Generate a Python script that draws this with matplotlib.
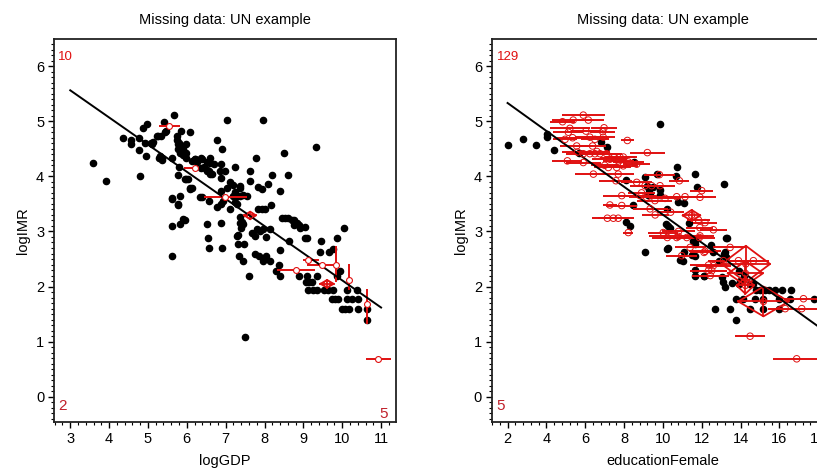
import numpy as np
import matplotlib
matplotlib.use("Agg")
import matplotlib.pyplot as plt
from matplotlib.ticker import MultipleLocator

plt.rcParams['font.family'] = ['Liberation Sans', 'DejaVu Sans']

RED = '#e01010'

# ---- left panel: logGDP vs logIMR ----
gdp_obs = [3.59, 3.91, 4.35, 4.56, 4.56, 4.77, 4.77, 4.80, 4.93, 4.88, 4.97, 4.94, 5.10, 5.12,
           5.23, 5.34, 5.31, 5.37, 5.41, 5.46, 5.67, 5.61, 5.74, 5.74, 5.85, 5.77, 5.77, 5.91,
           5.97, 5.97, 5.97, 5.82, 5.88, 6.13, 6.22, 6.37, 5.80, 5.77, 5.61, 5.78, 5.96, 6.07,
           6.13, 5.90, 5.96, 5.83, 5.61, 5.61, 6.34, 6.45, 6.52, 6.60, 6.60, 6.60, 6.53, 6.54,
           6.57, 6.78, 6.90, 6.87, 6.86, 6.70, 6.64, 7.03, 6.88, 6.97, 6.88, 7.03, 6.87, 6.93,
           6.88, 6.90, 7.12, 7.20, 7.29, 7.37, 7.45, 7.55, 7.24, 7.38, 7.38, 7.29, 7.24, 7.38,
           7.42, 7.40, 7.30, 7.32, 7.48, 7.35, 7.45, 7.62, 7.62, 7.78, 7.95, 7.84, 7.93, 7.83,
           7.93, 8.00, 8.08, 8.19, 7.80, 7.88, 7.97, 7.67, 7.75, 8.05, 8.14, 8.17, 8.40, 8.51,
           8.60, 8.53, 8.60, 8.77, 8.84, 8.88, 9.03, 8.62, 8.40, 9.32, 9.09, 9.45, 9.87, 10.05,
           9.44, 9.65, 9.77, 7.75, 7.85, 7.95, 8.05, 8.15, 7.59, 7.49, 8.36, 8.29, 8.40, 8.88,
           9.09, 9.35, 9.06, 9.15, 9.23, 9.93, 9.86, 9.13, 9.26, 9.35, 9.52, 9.64, 9.77, 10.12,
           10.37, 9.73, 9.82, 9.90, 10.13, 10.24, 10.40, 10.00, 10.08, 10.17, 10.40, 10.64, 10.64,
           7.37, 7.44, 7.31, 6.39, 6.52, 6.21, 6.27, 6.36, 6.49, 6.58, 6.40, 6.57, 6.77, 7.10,
           7.20, 7.25, 5.09, 5.27, 5.28, 5.35, 5.45, 5.63, 5.82, 5.77, 5.99, 6.04, 6.08, 6.08,
           5.80, 5.85, 5.88, 5.90, 8.70, 8.76, 8.92, 9.05, 8.46]
imr_obs_l = [4.25, 3.92, 4.69, 4.66, 4.58, 4.70, 4.48, 4.01, 4.61, 4.87, 4.94, 4.36, 4.58, 4.62,
             4.73, 4.73, 4.37, 4.34, 4.99, 4.82, 5.11, 4.33, 4.74, 4.65, 4.82, 4.58, 4.49, 4.49,
             4.58, 4.42, 4.34, 4.43, 4.43, 4.28, 4.32, 4.34, 4.16, 4.03, 3.61, 3.50, 3.95, 3.77,
             3.78, 3.23, 3.20, 3.14, 3.09, 2.56, 3.63, 4.16, 4.10, 4.34, 4.24, 4.05, 3.14, 2.89,
             2.70, 4.65, 4.49, 4.22, 4.10, 4.22, 4.04, 5.02, 3.97, 4.10, 3.73, 3.79, 3.49, 3.55,
             3.16, 2.70, 3.41, 3.65, 3.65, 3.64, 3.66, 3.65, 4.16, 3.78, 3.82, 3.50, 3.53, 3.27,
             3.18, 3.07, 2.92, 2.77, 2.77, 2.56, 2.47, 4.09, 3.92, 4.34, 5.02, 3.80, 3.77, 3.41,
             3.41, 3.40, 3.86, 4.02, 3.05, 3.01, 3.04, 2.98, 2.92, 2.90, 3.04, 3.48, 3.73, 4.43,
             4.02, 3.24, 3.25, 3.20, 3.15, 3.11, 3.08, 2.83, 2.66, 4.54, 2.89, 2.82, 2.88, 3.07,
             2.62, 2.63, 2.69, 2.60, 2.55, 2.47, 2.55, 2.47, 2.19, 1.08, 2.40, 2.29, 2.19, 2.19,
             2.19, 2.19, 2.08, 2.08, 2.08, 2.29, 2.20, 1.93, 1.93, 1.93, 1.93, 1.93, 1.93, 1.93,
             1.93, 1.78, 1.78, 1.78, 1.78, 1.78, 1.78, 1.60, 1.60, 1.60, 1.60, 1.60, 1.39,
             3.16, 3.13, 2.94, 4.31, 4.26, 4.31, 4.26, 4.15, 4.13, 4.09, 3.63, 3.56, 3.45, 3.90,
             3.85, 3.72, 4.61, 4.73, 4.34, 4.30, 4.81, 3.58, 3.65, 3.48, 3.95, 3.96, 3.79, 4.80,
             4.60, 4.55, 4.45, 4.38, 3.20, 3.12, 3.06, 2.89, 3.24]

# imputed logGDP (missing x): value, interval low/high, observed logIMR
gdp_imp = [5.55, 6.22, 6.97, 8.82, 9.13, 9.49, 10.92]
gdp_lo = [5.29, 5.93, 6.45, 8.33, 8.99, 9.09, 10.60]
gdp_hi = [5.83, 6.32, 7.56, 9.31, 9.41, 9.91, 11.26]
gdp_imp_y = [4.91, 4.15, 3.62, 2.30, 2.48, 2.40, 0.69]

# imputed logIMR (missing y)
imr_imp_x = [9.85, 10.17, 10.64]
imr_imp = [2.40, 2.12, 1.69]
imr_lo = [2.08, 1.93, 1.33]
imr_hi = [2.74, 2.41, 1.96]

# both missing: centre and half-widths
both_l_x = [7.63, 9.61]
both_l_y = [3.29, 2.05]
both_l_dx = [0.15, 0.17]
both_l_dy = [0.07, 0.07]

fit_l_x = [3.0, 11.0]
fit_l_y = [5.56, 1.62]

# ---- right panel: educationFemale vs logIMR ----
edu_obs = [2.00, 2.80, 3.49, 4.01, 4.01, 4.39, 5.69, 6.79, 7.10, 9.85, 8.51, 8.10, 9.10, 9.68,
           10.71, 10.66, 11.66, 13.15, 11.75, 9.20, 9.50, 9.85, 9.30, 9.25, 9.35, 9.85, 8.47,
           10.80, 11.10, 11.36, 10.20, 10.15, 10.39, 8.10, 8.30, 11.66, 11.66, 12.48, 13.25,
           9.08, 10.20, 11.10, 11.66, 10.90, 13.20, 13.20, 12.90, 11.66, 11.66, 12.10, 10.28,
           13.29, 10.28, 11.57, 12.60, 13.13, 13.23, 13.03, 13.55, 13.10, 13.20, 13.90, 13.99,
           14.48, 14.65, 14.20, 14.80, 15.00, 15.27, 15.44, 15.78, 16.13, 16.60, 13.77, 14.15,
           14.75, 15.18, 15.96, 16.56, 17.76, 12.69, 13.46, 14.49, 15.18, 15.96, 13.77, 11.05,
           12.10, 13.90, 11.50]
imr_obs_r = [4.56, 4.68, 4.57, 4.76, 4.71, 4.47, 4.43, 4.62, 4.53, 4.94, 4.26, 3.94, 3.98, 4.05,
             4.16, 4.01, 4.05, 3.86, 3.80, 3.82, 3.80, 3.75, 3.75, 3.67, 3.67, 3.67, 3.48,
             3.54, 3.51, 3.16, 3.41, 3.14, 3.06, 3.18, 3.10, 2.83, 2.78, 2.76, 2.88,
             2.63, 2.69, 2.63, 2.56, 2.48, 2.62, 2.55, 2.47, 2.30, 2.20, 2.20, 3.10,
             2.88, 2.70, 2.83, 2.62, 2.59, 2.53, 2.18, 2.06, 2.08, 1.99, 2.05, 2.11,
             2.05, 2.05, 2.20, 1.93, 1.93, 1.93, 1.93, 1.93, 1.93, 1.93, 1.78, 1.78,
             1.78, 1.78, 1.78, 1.78, 1.78, 1.60, 1.60, 1.60, 1.60, 1.60, 1.39, 2.47,
             2.19, 2.29, 2.57]

# imputed educationFemale (missing x)
edu_imp = [5.90, 6.16, 5.38, 4.83, 5.21, 5.13, 6.04, 6.97, 6.90, 4.96, 5.35, 6.24, 6.50, 6.93,
           8.17, 5.56, 6.38, 5.90, 6.24, 6.50, 6.76, 7.10, 7.48, 7.79, 7.96, 9.20, 5.08, 5.90,
           7.27, 7.70, 8.22, 8.65, 7.19, 7.62, 7.96, 6.42, 7.70, 9.82, 7.58, 8.65, 9.08, 9.42,
           9.85, 10.85, 7.88, 8.82, 9.16, 9.59, 10.11, 10.71, 11.14, 11.91, 12.00, 7.27, 7.88,
           9.34, 7.14, 7.45, 7.70, 8.22, 10.02, 10.23, 10.71, 11.23, 11.88, 10.80, 11.90, 12.60,
           12.17, 11.83, 12.17, 10.97, 13.46, 13.89, 14.66, 13.12, 12.60, 12.52, 10.80, 11.91,
           11.40, 12.12, 12.35, 12.35, 12.44, 17.24, 16.30, 17.15, 14.49, 16.89, 6.60, 8.90,
           9.60, 10.40, 5.60, 7.00]
edu_imp_y = [5.11, 5.02, 5.02, 4.99, 4.87, 4.80, 4.82, 4.88, 4.81, 4.67, 4.70, 4.71, 4.67, 4.71,
             4.65, 4.55, 4.55, 4.41, 4.41, 4.41, 4.41, 4.41, 4.34, 4.35, 4.35, 4.43, 4.28, 4.25,
             4.31, 4.28, 4.26, 4.22, 4.16, 4.16, 4.19, 4.04, 4.04, 4.03, 3.92, 3.89, 3.83, 3.83,
             3.83, 3.92, 3.65, 3.65, 3.62, 3.56, 3.60, 3.63, 3.63, 3.62, 3.74, 3.48, 3.47,
             3.41, 3.24, 3.24, 3.24, 2.98, 2.98, 2.89, 2.89, 2.89, 2.89, 3.00, 3.07, 3.03,
             3.16, 3.21, 2.64, 2.56, 2.71, 2.47, 2.47, 2.47, 2.38, 2.29, 2.91, 2.92,
             2.71, 2.62, 2.39, 2.29, 2.20, 1.78, 1.60, 1.60, 1.10, 0.69, 4.45, 3.70,
             3.30, 3.35, 4.44, 4.20]
edu_halfw = [1.12, 0.82, 1.07, 0.64, 1.05, 0.78, 0.78, 0.65, 0.65, 0.64, 0.82, 0.77, 0.73, 0.60,
             0.35, 0.86, 0.69, 0.90, 0.80, 0.80, 0.80, 0.80, 0.70, 0.75, 0.70, 0.90, 0.77, 0.90,
             0.90, 0.80, 0.80, 0.70, 0.75, 0.75, 0.75, 0.95, 0.80, 0.78, 0.85, 0.80, 0.75, 0.75,
             0.75, 0.52, 0.95, 0.90, 0.90, 0.90, 0.80, 0.80, 0.80, 0.80, 0.60, 0.35, 0.80,
             0.90, 0.80, 0.80, 0.80, 0.26, 0.78, 0.80, 0.80, 0.80, 0.80, 0.85, 0.70, 0.70,
             0.60, 0.60, 0.80, 0.80, 0.86, 0.80, 0.80, 0.80, 0.90, 0.80, 1.50, 0.70,
             0.80, 0.70, 0.95, 0.95, 0.95, 0.98, 0.90, 0.90, 0.77, 1.20, 0.70, 0.70,
             0.70, 0.70, 0.80, 0.70]

# both missing in the right panel
both_r_x = [14.27, 15.18, 14.25, 11.48, 14.25]
both_r_y = [2.41, 1.73, 2.24, 3.29, 2.02]
both_r_dx = [1.25, 1.30, 0.90, 0.45, 0.45]
both_r_dy = [0.33, 0.27, 0.22, 0.10, 0.15]

fit_r_x = [2.0, 18.5]
fit_r_y = [5.33, 1.15]


def diamonds(ax, xs, ys, dxs, dys):
    for x, y, dx, dy in zip(xs, ys, dxs, dys):
        ax.plot([x - dx, x, x + dx, x, x - dx], [y, y + dy, y, y - dy, y],
                color=RED, lw=1.3, zorder=4)
        ax.plot([x - dx, x + dx], [y, y], color=RED, lw=1.3, zorder=4)
        ax.plot([x, x], [y - dy, y + dy], color=RED, lw=1.3, zorder=4)
        ax.scatter([x], [y], s=20, facecolors='none', edgecolors=RED, lw=0.8, zorder=5)


def style(ax, xlabel, xmaj, xmin):
    ax.set_title('Missing data: UN example', fontsize=10.5, pad=11)
    ax.set_xlabel(xlabel, fontsize=10.5, labelpad=6)
    ax.set_ylabel('logIMR', fontsize=10.5, labelpad=4)
    ax.xaxis.set_major_locator(MultipleLocator(xmaj))
    ax.xaxis.set_minor_locator(MultipleLocator(xmin))
    ax.yaxis.set_major_locator(MultipleLocator(1))
    ax.yaxis.set_minor_locator(MultipleLocator(0.1))
    ax.tick_params(which='major', direction='out', length=4, width=1, labelsize=10.5, pad=3)
    ax.tick_params(which='minor', direction='out', length=2, width=0.8)
    for s in ax.spines.values():
        s.set_linewidth(1.3)
        s.set_color('#222222')


fig = plt.figure(figsize=(8.17, 4.76), dpi=100)
ax1 = fig.add_axes([0.066, 0.113, 0.419, 0.805])
ax2 = fig.add_axes([0.602, 0.113, 0.419, 0.805])

# left
ax1.scatter(gdp_obs, imr_obs_l, s=20, color='black', zorder=3)
ax1.hlines(gdp_imp_y, gdp_lo, gdp_hi, color=RED, lw=1.4, zorder=4)
ax1.scatter(gdp_imp, gdp_imp_y, s=18, facecolors='white', edgecolors=RED, lw=0.8, zorder=5)
ax1.vlines(imr_imp_x, imr_lo, imr_hi, color=RED, lw=1.4, zorder=4)
ax1.scatter(imr_imp_x, imr_imp, s=18, facecolors='white', edgecolors=RED, lw=0.8, zorder=5)
diamonds(ax1, both_l_x, both_l_y, both_l_dx, both_l_dy)
ax1.plot(fit_l_x, fit_l_y, color='black', lw=1.4, zorder=4)
ax1.set_xlim(2.58, 11.39)
ax1.set_ylim(-0.46, 6.49)
style(ax1, 'logGDP', 1, 0.2)
ax1.text(0.012, 0.953, '10', transform=ax1.transAxes, color=RED, fontsize=9.5, va='center')
ax1.text(0.012, 0.042, '2', transform=ax1.transAxes, color='#c0202a', fontsize=11, va='center')
ax1.text(0.952, 0.021, '5', transform=ax1.transAxes, color='#c0202a', fontsize=11, va='center')

# right
ax2.scatter(edu_obs, imr_obs_r, s=20, color='black', zorder=3)
edu_lo = np.array(edu_imp) - np.array(edu_halfw)
edu_hi = np.array(edu_imp) + np.array(edu_halfw)
ax2.hlines(edu_imp_y, edu_lo, edu_hi, color=RED, lw=1.4, zorder=4)
ax2.scatter(edu_imp, edu_imp_y, s=22, facecolors='none', edgecolors=RED, lw=0.7, zorder=5)
diamonds(ax2, both_r_x, both_r_y, both_r_dx, both_r_dy)
ax2.plot(fit_r_x, fit_r_y, color='black', lw=1.4, zorder=4)
ax2.set_xlim(1.19, 18.82)
ax2.set_ylim(-0.46, 6.49)
style(ax2, 'educationFemale', 2, 0.4)
ax2.text(0.015, 0.953, '129', transform=ax2.transAxes, color=RED, fontsize=9.5, va='center')
ax2.text(0.012, 0.042, '5', transform=ax2.transAxes, color='#c0202a', fontsize=11, va='center')

fig.savefig('out.png', dpi=100)
